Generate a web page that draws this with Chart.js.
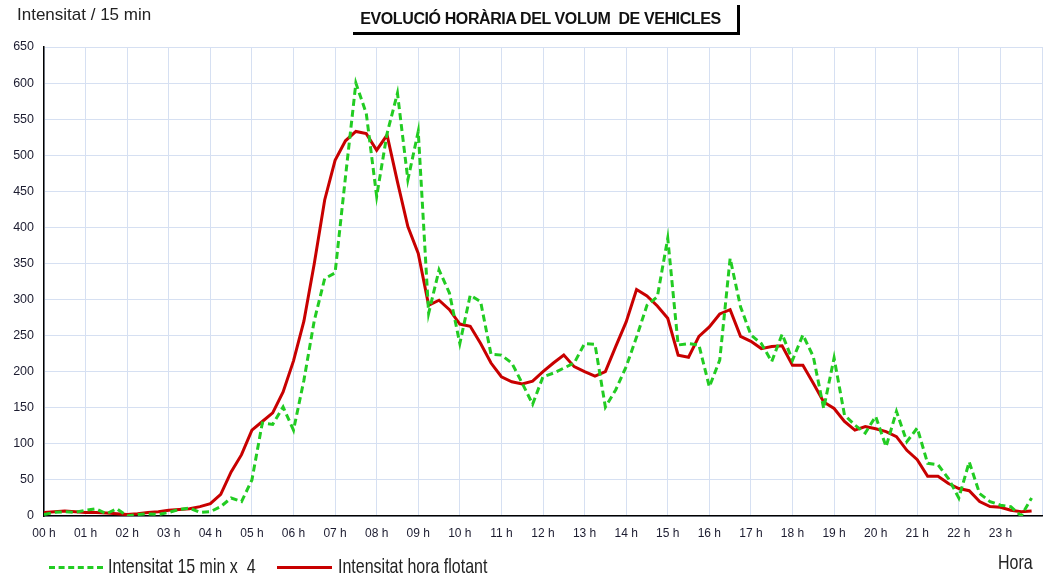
<!DOCTYPE html>
<html>
<head>
<meta charset="utf-8">
<script src="https://cdn.jsdelivr.net/npm/chart.js@4/dist/chart.umd.min.js"></script>
<style>
  html, body { margin:0; padding:0; background:#fff; overflow:hidden; }
  #wrap { position:relative; width:1052px; height:576px; overflow:hidden; }
  canvas { position:absolute; left:0; top:0; }
  .txt { position:absolute; font-family:"Liberation Sans", Arial, sans-serif; color:#222; white-space:nowrap; transform-origin:0 0; }
  #ylab { left:17px; top:5px; font-size:17px; }
  #titlebox { position:absolute; left:353px; top:5px; width:384px; height:27px; border-right:3px solid #000; border-bottom:3px solid #000; }
  #title { position:absolute; left:0; width:375px; top:5px; text-align:center; font-family:"Liberation Sans", Arial, sans-serif; font-weight:bold; font-size:16px; letter-spacing:-0.4px; color:#111; }
  #hora { left:998px; top:551px; font-size:16px; transform:scaleY(1.3); }
  .leg { position:absolute; top:555px; font-family:"Liberation Sans", Arial, sans-serif; font-size:16px; color:#222; white-space:nowrap; transform:scaleY(1.3); transform-origin:0 0; }
  .legline { position:absolute; top:566px; height:0; }
</style>
</head>
<body>
<div id="wrap">
  <canvas id="c" width="1052" height="576"></canvas>
  <div class="txt" id="ylab">Intensitat / 15 min</div>
  <div id="titlebox"><div id="title">EVOLUCIÓ HORÀRIA DEL VOLUM&nbsp; DE VEHICLES</div></div>
  <div class="txt" id="hora">Hora</div>
  <div class="legline" style="left:49px; width:54px; border-top:3px dashed #22cc22;"></div>
  <div class="leg" style="left:108px;">Intensitat 15 min x&nbsp; 4</div>
  <div class="legline" style="left:277px; width:55px; border-top:3px solid #c80000;"></div>
  <div class="leg" style="left:338px;">Intensitat hora flotant</div>
</div>
<script>
// Hour tick labels (x axis)
const hourLabels = ["00 h","01 h","02 h","03 h","04 h","05 h","06 h","07 h","08 h","09 h","10 h","11 h",
                    "12 h","13 h","14 h","15 h","16 h","17 h","18 h","19 h","20 h","21 h","22 h","23 h"];

// 15-minute intensity x 4 (green dashed), one value per quarter hour, 00:00 .. 23:45
const intensitat15min = [
  2,5,6,5,        8,10,3,10,      0,2,3,2,        5,9,11,5,
  6,13,25,20,     50,129,127,151, 119,188,271,329, 337,470,600,558,
  443,530,586,466, 533,281,341,309, 239,306,297,224, 223,212,184,155,
  193,198,205,212, 239,238,151,175, 207,248,292,304, 385,237,239,237,
  179,216,357,290, 251,239,214,252, 216,251,221,149, 219,140,126,115,
  138,96,145,103,  122,73,71,52,   25,75,31,20,    15,13,0,25
];

// Floating hourly intensity (red solid)
const intensitatHora = [
  5,6,7,6,        5,5,4,3,        2,3,5,6,        8,9,10,13,
  17,30,61,85,    119,131,143,172, 215,270,350,438, 493,520,533,530,
  507,528,463,401, 364,292,299,286, 266,263,239,212, 193,186,183,187,
  200,212,223,207, 200,194,200,235, 269,314,305,291, 274,223,220,249,
  262,280,286,249, 242,232,235,236, 209,209,184,158, 149,131,119,124,
  121,117,110,91,  78,55,55,45,    38,35,20,13,    12,8,6,7
];

const toPoints = arr => arr.map((v, i) => ({ x: i / 4, y: v }));

new Chart(document.getElementById('c'), {
  type: 'line',
  data: {
    datasets: [
      {
        label: 'Intensitat 15 min x  4',
        data: toPoints(intensitat15min),
        borderColor: '#22cc22',
        borderWidth: 3,
        borderDash: [7, 4],
        pointRadius: 0,
        tension: 0,
        fill: false
      },
      {
        label: 'Intensitat hora flotant',
        data: toPoints(intensitatHora),
        borderColor: '#c80000',
        borderWidth: 3,
        pointRadius: 0,
        tension: 0,
        fill: false
      }
    ]
  },
  options: {
    responsive: false,
    animation: false,
    layout: { padding: { top: 47, right: 7, left: 0, bottom: 0 } },
    plugins: { legend: { display: false }, tooltip: { enabled: false } },
    scales: {
      x: {
        type: 'linear',
        min: 0, max: 24,
        afterFit: s => { s.height = 60; },
        grid: { color: '#d6e0f2', lineWidth: 1, drawTicks: false },
        border: { color: '#000', width: 1.5 },
        ticks: {
          stepSize: 1, autoSkip: false, maxRotation: 0, padding: 10,
          font: { family: 'Liberation Sans, Arial', size: 12 }, color: '#1c1c30',
          callback: v => hourLabels[v] !== undefined ? hourLabels[v] : ''
        }
      },
      y: {
        min: 0, max: 650,
        afterFit: s => { s.width = 44; },
        grid: { color: '#d6e0f2', lineWidth: 1, drawTicks: false },
        border: { color: '#000', width: 1.5 },
        ticks: {
          stepSize: 50, padding: 10,
          font: { family: 'Liberation Sans, Arial', size: 12.5 }, color: '#1c1c30'
        }
      }
    }
  }
});
</script>
</body>
</html>
